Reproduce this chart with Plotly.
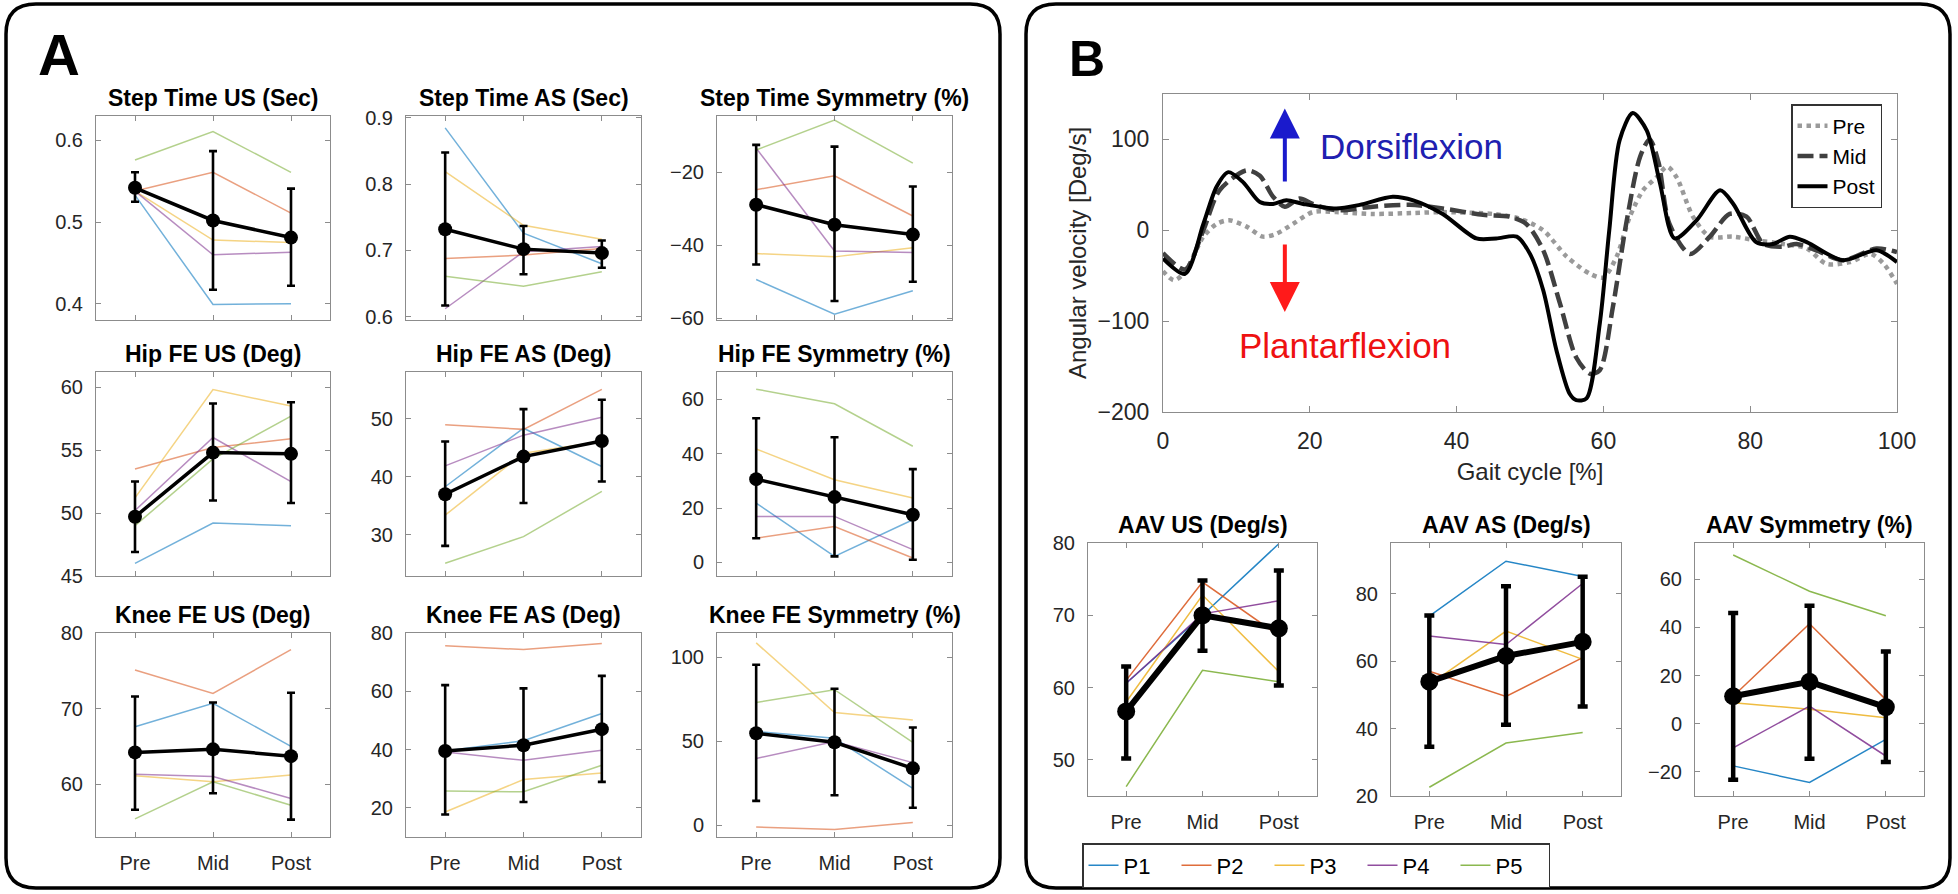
import plotly.graph_objects as go

W, H = 1958, 894

# ---------------- data ----------------
conditions = ["Pre", "Mid", "Post"]
participants = ["P1", "P2", "P3", "P4", "P5"]
participant_colors = ["#0072BD", "#D95319", "#EDB120", "#7E2F8E", "#77AC30"]

# Panel A: participant values (rows P1..P5; columns Pre, Mid, Post), group mean, error-bar top/bottom
step_time_us = [[0.533, 0.399, 0.400], [0.538, 0.561, 0.511], [0.538, 0.478, 0.475],
                [0.538, 0.460, 0.463], [0.576, 0.611, 0.561]]
step_time_us_mean = [0.542, 0.502, 0.481]
step_time_us_hi = [0.561, 0.587, 0.541]
step_time_us_lo = [0.525, 0.417, 0.422]

step_time_as = [[0.885, 0.726, 0.680], [0.688, 0.693, 0.703], [0.819, 0.738, 0.717],
                [0.612, 0.698, 0.706], [0.661, 0.646, 0.668]]
step_time_as_mean = [0.732, 0.702, 0.696]
step_time_as_hi = [0.848, 0.737, 0.715]
step_time_as_lo = [0.617, 0.664, 0.674]

step_time_sym = [[-49.4, -58.9, -52.5], [-24.8, -21.0, -32.0], [-42.3, -43.2, -40.7],
                 [-13.4, -41.6, -42.0], [-13.9, -5.7, -17.5]]
step_time_sym_mean = [-28.9, -34.4, -37.1]
step_time_sym_hi = [-12.5, -13.0, -23.9]
step_time_sym_lo = [-45.3, -55.3, -50.0]

hip_us = [[46.0, 49.2, 49.0], [53.5, 55.2, 55.9], [51.2, 59.8, 58.5],
          [50.2, 56.0, 52.5], [49.0, 54.3, 57.7]]
hip_us_mean = [49.7, 54.8, 54.7]
hip_us_hi = [52.5, 58.7, 58.8]
hip_us_lo = [46.9, 51.0, 50.8]

hip_as = [[38.3, 48.4, 41.8], [49.0, 48.2, 55.1], [33.4, 44.1, 46.1],
          [41.9, 47.2, 50.3], [25.1, 29.7, 37.5]]
hip_as_mean = [37.0, 43.5, 46.2]
hip_as_hi = [46.1, 51.7, 53.3]
hip_as_lo = [28.1, 35.5, 39.2]

hip_sym = [[21.8, 2.2, 15.7], [8.9, 13.2, 1.6], [41.7, 30.4, 23.7],
           [16.9, 16.9, 4.7], [63.7, 58.3, 42.7]]
hip_sym_mean = [30.6, 24.0, 17.5]
hip_sym_hi = [53.0, 46.0, 34.3]
hip_sym_lo = [8.9, 2.2, 1.0]

knee_us = [[67.6, 70.7, 65.0], [75.1, 72.0, 77.8], [61.1, 60.3, 61.2],
           [61.3, 61.0, 58.1], [55.4, 60.3, 57.2]]
knee_us_mean = [64.2, 64.6, 63.7]
knee_us_hi = [71.6, 70.8, 72.1]
knee_us_lo = [56.6, 58.8, 55.3]

knee_as = [[39.5, 43.0, 52.4], [75.6, 74.3, 76.4], [18.6, 29.7, 32.0],
           [39.2, 36.3, 39.8], [25.8, 25.5, 34.6]]
knee_as_mean = [39.5, 41.5, 47.0]
knee_as_hi = [62.1, 61.0, 65.3]
knee_as_lo = [17.7, 22.0, 28.9]

knee_sym = [[55.8, 51.8, 21.9], [-1.0, -2.6, 1.6], [108.6, 67.1, 62.7],
            [39.8, 49.8, 37.3], [73.1, 80.7, 49.4]]
knee_sym_mean = [54.8, 49.4, 33.9]
knee_sym_hi = [95.6, 81.3, 58.2]
knee_sym_lo = [14.5, 17.9, 10.4]

# Panel B: AAV
aav_us = [[60.6, 70.0, 79.9], [61.0, 74.6, 67.2], [58.0, 72.8, 62.2],
          [60.6, 70.2, 72.0], [46.3, 62.4, 60.8]]
aav_us_mean = [56.7, 70.0, 68.2]
aav_us_hi = [62.9, 74.8, 76.2]
aav_us_lo = [50.2, 65.1, 60.3]

aav_as = [[73.3, 89.6, 85.1], [57.0, 49.5, 61.0], [53.0, 68.9, 60.5],
          [67.4, 64.9, 83.0], [22.6, 35.7, 38.8]]
aav_as_mean = [53.9, 61.5, 65.7]
aav_as_hi = [73.5, 82.2, 85.0]
aav_as_lo = [34.6, 41.1, 46.5]

aav_sym = [[-17.5, -24.4, -6.5], [11.4, 41.5, 10.0], [8.7, 6.0, 2.5],
           [-10.0, 7.3, -13.4], [70.0, 55.0, 44.8]]
aav_sym_mean = [11.4, 17.4, 6.9]
aav_sym_hi = [45.9, 49.0, 30.0]
aav_sym_lo = [-23.3, -14.5, -15.9]

# Panel B: ankle angular velocity over the gait cycle
gait_pre_x = [0, 1.5, 3.0, 5.5, 7.3, 9.0, 11.4, 13.6, 15.4, 17.7, 20.4, 23.6, 28.6, 34.1, 38.1, 44.9,
              48.5, 51.8, 55.0, 58.2, 60.0, 61.8, 63.6, 65.4, 67.2, 68.7, 70.0, 72.2, 74.5, 77.7,
              80.8, 84.5, 87.7, 90.4, 93.6, 96.4, 98.2, 100]
gait_pre_y = [-45, -55, -46, -7, 7, 11, 4, -7, -4, 7, 20, 20, 18, 19, 20, 18,
              13, 0, -29, -48, -52, -29, 15, 44, 58, 70, 58, 15, -7, -7,
              -11, -15, -20, -37, -35, -26, -37, -59]

gait_mid_x = [0, 3.0, 5.5, 7.7, 11.4, 13.2, 15.0, 16.6, 18.6, 20.4, 23.6, 28.6, 33.6, 38.1, 43.6,
              47.2, 49.5, 51.8, 54.1, 56.3, 58.2, 59.5, 61.3, 63.1, 65.0, 66.3, 67.5, 69.0, 71.8,
              74.5, 77.2, 79.5, 81.8, 84.5, 86.3, 89.0, 92.6, 97.2, 100]
gait_mid_y = [-25, -43, 0, 44, 66, 60, 37, 26, 35, 29, 22, 26, 28, 24, 17,
              15, 7, -22, -81, -140, -158, -154, -84, 7, 81, 100, 75, 7, -26,
              -7, 18, 15, -15, -18, -15, -22, -33, -20, -24]

gait_post_x = [0, 3.0, 5.5, 7.3, 8.9, 10.9, 13.2, 15.0, 16.8, 19.1, 23.6, 26.8, 31.3, 34.1, 38.1,
               42.7, 45.4, 48.2, 50.0, 51.8, 53.6, 55.4, 56.3, 57.7, 59.5, 60.8, 62.2, 64.0, 65.9,
               67.7, 69.7, 72.7, 75.9, 77.7, 80.8, 83.1, 85.4, 87.7, 92.6, 97.2, 100]
gait_post_y = [-31, -48, 7, 48, 64, 53, 31, 29, 33, 29, 24, 28, 37, 33, 18,
               -9, -9, -7, -26, -66, -132, -180, -187, -185, -103, 0, 99, 129, 110,
               52, -9, 11, 44, 29, -13, -15, -7, -13, -33, -22, -35]

titles_a = ["Step Time US (Sec)", "Step Time AS (Sec)", "Step Time Symmetry (%)",
            "Hip FE US (Deg)", "Hip FE AS (Deg)", "Hip FE Symmetry (%)",
            "Knee FE US (Deg)", "Knee FE AS (Deg)", "Knee FE Symmetry (%)"]
titles_b = ["AAV US (Deg/s)", "AAV AS (Deg/s)", "AAV Symmetry (%)"]

ticks_small = [[0.4, 0.5, 0.6], [0.6, 0.7, 0.8, 0.9], [-60, -40, -20],
               [45, 50, 55, 60], [30, 40, 50], [0, 20, 40, 60],
               [60, 70, 80], [20, 40, 60, 80], [0, 50, 100],
               [50, 60, 70, 80], [20, 40, 60, 80], [-20, 0, 20, 40, 60]]
gait_yticks = [-200, -100, 0, 100]
gait_xticks = [0, 20, 40, 60, 80, 100]

# ---------------- layout geometry (pixels) ----------------
ranges_small = [[0.38, 0.63], [0.595, 0.903], [-60.5, -4.6],
                [45, 61.2], [22.9, 58.1], [-5, 70],
                [53, 80], [10, 80], [-7, 114.5],
                [45, 80], [20, 95], [-30, 75]]
cols_a = [(96, 330), (406, 641), (717, 952)]
rows_a = [(116, 320), (372, 576), (633, 837)]
cols_b = [(1088, 1317), (1391, 1621), (1695, 1924)]
row_b = (543, 796)
gait_box = ((1163, 1897), (94, 412))

def xd(a, b):
    return [a / W, b / W]

def yd(t, b):
    return [1 - b / H, 1 - t / H]

FONT = "Liberation Sans, Arial, sans-serif"
AXC = "#8c8c8c"
TXC = "#262626"

small_sets = [
    (step_time_us, step_time_us_mean, step_time_us_hi, step_time_us_lo),
    (step_time_as, step_time_as_mean, step_time_as_hi, step_time_as_lo),
    (step_time_sym, step_time_sym_mean, step_time_sym_hi, step_time_sym_lo),
    (hip_us, hip_us_mean, hip_us_hi, hip_us_lo),
    (hip_as, hip_as_mean, hip_as_hi, hip_as_lo),
    (hip_sym, hip_sym_mean, hip_sym_hi, hip_sym_lo),
    (knee_us, knee_us_mean, knee_us_hi, knee_us_lo),
    (knee_as, knee_as_mean, knee_as_hi, knee_as_lo),
    (knee_sym, knee_sym_mean, knee_sym_hi, knee_sym_lo),
    (aav_us, aav_us_mean, aav_us_hi, aav_us_lo),
    (aav_as, aav_as_mean, aav_as_hi, aav_as_lo),
    (aav_sym, aav_sym_mean, aav_sym_hi, aav_sym_lo),
]
titles_all = titles_a + titles_b

fig = go.Figure()
layout = dict(
    width=W, height=H, autosize=False,
    margin=dict(l=0, r=0, t=0, b=0, pad=0, autoexpand=False),
    paper_bgcolor="white", plot_bgcolor="white",
    font=dict(family=FONT, color=TXC),
    showlegend=True,
)
annotations = []

for i, (pvals, mean, hi, lo) in enumerate(small_sets):
    n = i + 1
    xa = "x" if n == 1 else f"x{n}"
    ya = "y" if n == 1 else f"y{n}"
    panel_b = i >= 9
    if panel_b:
        (x0, x1), (t, b) = cols_b[i - 9], row_b
        op, lw_mean, msize, ebw, ecap = 0.85, 6, 18, 4.5, 5
        show_xlabels = True
    else:
        (x0, x1) = cols_a[i % 3]
        (t, b) = rows_a[i // 3]
        op, lw_mean, msize, ebw, ecap = 0.55, 3.5, 14, 2.6, 4
        show_xlabels = i >= 6
    for k, name in enumerate(participants):
        fig.add_trace(go.Scatter(
            x=conditions, y=pvals[k], mode="lines", name=name,
            line=dict(color=participant_colors[k], width=1.5), opacity=op,
            xaxis=xa, yaxis=ya, legend="legend2",
            showlegend=(i == 9), hoverinfo="skip"))
    fig.add_trace(go.Scatter(
        x=conditions, y=mean, mode="lines+markers", name="mean",
        line=dict(color="black", width=lw_mean),
        marker=dict(color="black", size=msize),
        error_y=dict(type="data", symmetric=False,
                     array=[h - m for h, m in zip(hi, mean)],
                     arrayminus=[m - l for m, l in zip(mean, lo)],
                     color="black", thickness=ebw, width=ecap),
        xaxis=xa, yaxis=ya, showlegend=False))
    axis_common = dict(showline=True, linecolor=AXC, linewidth=1, mirror="ticks",
                       ticks="inside", ticklen=5, tickcolor=AXC, showgrid=False,
                       zeroline=False, tickfont=dict(size=20, color=TXC, family=FONT),
                       ticklabelstandoff=8, automargin=False)
    layout[f"xaxis{n if n > 1 else ''}"] = dict(
        domain=xd(x0, x1), anchor=ya, type="category", range=[-0.5, 2.5],
        showticklabels=show_xlabels, **axis_common)
    layout[f"yaxis{n if n > 1 else ''}"] = dict(
        domain=yd(t, b), anchor=xa, range=ranges_small[i], tickvals=ticks_small[i],
        **axis_common)
    annotations.append(dict(
        text=f"<b>{titles_all[i]}</b>", x=(x0 + x1) / 2 / W, y=1 - (t - 3) / H,
        xref="paper", yref="paper", xanchor="center", yanchor="bottom",
        showarrow=False, font=dict(size=23, color="black", family=FONT)))

# Gait cycle plot (axis 13)
gx, gy = "x13", "y13"
fig.add_trace(go.Scatter(x=gait_pre_x, y=gait_pre_y, mode="lines", name="Pre",
                         line=dict(color="#9a9a9a", width=4.5, dash="dot", shape="spline", smoothing=0.8),
                         xaxis=gx, yaxis=gy, legend="legend"))
fig.add_trace(go.Scatter(x=gait_mid_x, y=gait_mid_y, mode="lines", name="Mid",
                         line=dict(color="#404040", width=4.5, dash="16px,6px", shape="spline", smoothing=0.8),
                         xaxis=gx, yaxis=gy, legend="legend"))
fig.add_trace(go.Scatter(x=gait_post_x, y=gait_post_y, mode="lines", name="Post",
                         line=dict(color="black", width=4, shape="spline", smoothing=0.8),
                         xaxis=gx, yaxis=gy, legend="legend"))

gait_axis = dict(showline=True, linecolor=AXC, linewidth=1, mirror="ticks",
                 ticks="inside", ticklen=6, tickcolor=AXC, showgrid=False, zeroline=False,
                 tickfont=dict(size=23, color=TXC, family=FONT), ticklabelstandoff=8,
                 automargin=False)
layout["xaxis13"] = dict(domain=xd(*gait_box[0]), anchor=gy, range=[0, 100], tickvals=gait_xticks,
                         title=dict(text="Gait cycle [%]", font=dict(size=24, color=TXC), standoff=10),
                         **gait_axis)
layout["yaxis13"] = dict(domain=yd(*gait_box[1]), anchor=gx, range=[-200, 150], tickvals=gait_yticks,
                         title=dict(text="Angular velocity [Deg/s]", font=dict(size=24, color=TXC), standoff=4),
                         **gait_axis)

# direction arrows and labels
annotations += [
    dict(x=16.6, y=134, ax=16.6, ay=52, xref=gx, yref=gy, axref=gx, ayref=gy,
         showarrow=True, arrowhead=2, arrowsize=1.5, arrowwidth=4, arrowcolor="#1a1acc", text=""),
    dict(x=16.6, y=-90, ax=16.6, ay=-14, xref=gx, yref=gy, axref=gx, ayref=gy,
         showarrow=True, arrowhead=2, arrowsize=1.5, arrowwidth=4, arrowcolor="#ff1a1a", text=""),
    dict(x=33.8, y=92, xref=gx, yref=gy, text="Dorsiflexion", showarrow=False,
         font=dict(size=35, color="#2020b0", family=FONT)),
    dict(x=24.8, y=-127, xref=gx, yref=gy, text="Plantarflexion", showarrow=False,
         font=dict(size=35, color="#ee1111", family=FONT)),
    dict(x=59 / W, y=1 - 54 / H, xref="paper", yref="paper", text="<b>A</b>", showarrow=False,
         xanchor="center", yanchor="middle",
         font=dict(size=58, color="black", family=FONT)),
    dict(x=1087 / W, y=1 - 59 / H, xref="paper", yref="paper", text="<b>B</b>", showarrow=False,
         xanchor="center", yanchor="middle",
         font=dict(size=50, color="black", family=FONT)),
]
layout["annotations"] = annotations

layout["legend"] = dict(x=1791 / W, y=1 - 104 / H, xanchor="left", yanchor="top",
                        bordercolor="#333333", borderwidth=1.5, bgcolor="white",
                        font=dict(size=21, color="black", family=FONT), tracegroupgap=0,
                        itemwidth=30)
layout["legend2"] = dict(orientation="h", x=1082 / W, y=1 - 843 / H, xanchor="left", yanchor="top",
                         bordercolor="#333333", borderwidth=1.5, bgcolor="white",
                         entrywidth=48, entrywidthmode="pixels",
                         font=dict(size=22, color="black", family=FONT))

def rounded(x0, y0, x1, y1, r):
    X0, X1 = x0 / W, x1 / W
    Yt, Yb = 1 - y0 / H, 1 - y1 / H
    rx, ry = r / W, r / H
    return (f"M {X0 + rx},{Yt} L {X1 - rx},{Yt} Q {X1},{Yt} {X1},{Yt - ry} "
            f"L {X1},{Yb + ry} Q {X1},{Yb} {X1 - rx},{Yb} L {X0 + rx},{Yb} "
            f"Q {X0},{Yb} {X0},{Yb + ry} L {X0},{Yt - ry} Q {X0},{Yt} {X0 + rx},{Yt} Z")

layout["shapes"] = [
    dict(type="path", path=rounded(6, 4, 1000, 888, 30), xref="paper", yref="paper",
         line=dict(color="black", width=3.5)),
    dict(type="path", path=rounded(1026, 4, 1950, 888, 30), xref="paper", yref="paper",
         line=dict(color="black", width=3.5)),
]

fig.update_layout(**layout)
fig.write_html("out.html", config={"displayModeBar": False},
               post_script="document.body.style.margin='0';document.body.style.overflow='hidden';")
